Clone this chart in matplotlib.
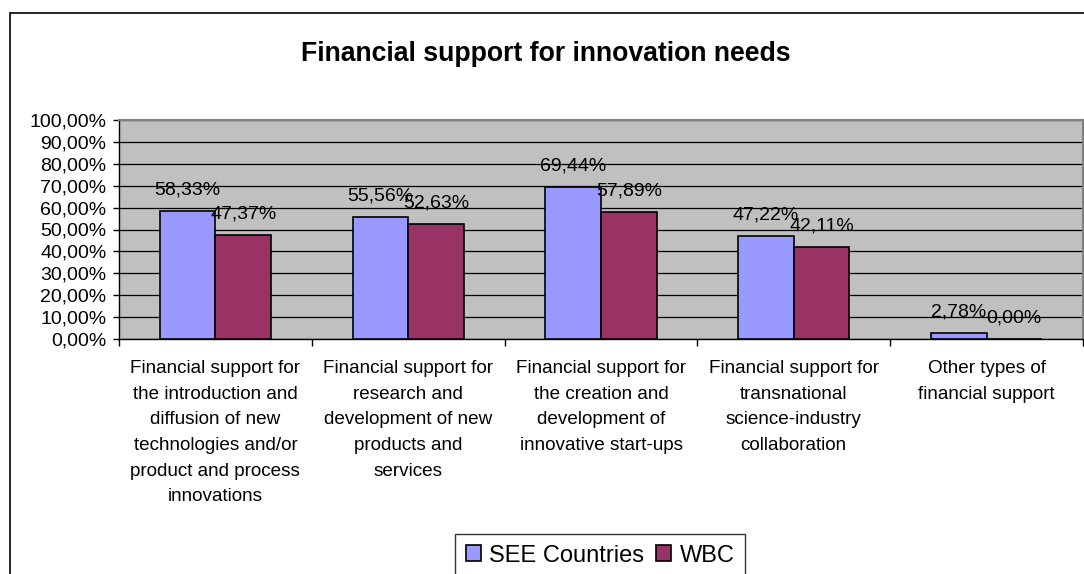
import numpy as np
import matplotlib
matplotlib.use('Agg')
import matplotlib.pyplot as plt
from matplotlib.patches import Rectangle

plt.rcParams['font.family'] = ['Liberation Sans', 'DejaVu Sans']

# Survey results: share of respondents per type of financial support
categories = [
    'Financial support for\nthe introduction and\ndiffusion of new\ntechnologies and/or\nproduct and process\ninnovations',
    'Financial support for\nresearch and\ndevelopment of new\nproducts and\nservices',
    'Financial support for\nthe creation and\ndevelopment of\ninnovative start-ups',
    'Financial support for\ntransnational\nscience-industry\ncollaboration',
    'Other types of\nfinancial support',
]
see_countries = [58.33, 55.56, 69.44, 47.22, 2.78]
wbc = [47.37, 52.63, 57.89, 42.11, 0.00]
yticks = np.arange(0, 101, 10)

W, H = 1084, 574
fig = plt.figure(figsize=(W / 100, H / 100), dpi=100)
ax = fig.add_axes([119 / W, 1 - 339 / H, (1083 - 119) / W, (339 - 120) / H])

# outer chart frame (runs off the right and bottom edges)
fig.patches.append(Rectangle((10 / W, -0.2), 1.2, 1.2 - 13 / H, transform=fig.transFigure,
                             fill=False, edgecolor='black', linewidth=1.2))

ax.set_facecolor('#C0C0C0')
x = np.arange(len(categories))
bw = 0.288
b1 = ax.bar(x - bw / 2, see_countries, bw, color='#9999FF', edgecolor='black', linewidth=1.2,
            label='SEE Countries', zorder=3)
b2 = ax.bar(x + bw / 2, wbc, bw, color='#993366', edgecolor='black', linewidth=1.2,
            label='WBC', zorder=3)

def pct(v):
    return f'{v:.2f}%'.replace('.', ',')

for bars, vals in ((b1, see_countries), (b2, wbc)):
    for rect, v in zip(bars, vals):
        ax.annotate(pct(v), (rect.get_x() + rect.get_width() / 2, v),
                    xytext=(0, 9), textcoords='offset points',
                    ha='center', va='bottom', fontsize=14, zorder=4)

ax.set_xlim(-0.5, len(categories) - 0.5)
ax.set_ylim(0, 100)
ax.set_yticks(yticks)
ax.set_yticklabels([pct(v) for v in yticks], fontsize=14)
ax.yaxis.grid(True, color='black', linewidth=0.9, zorder=1)
ax.tick_params(axis='y', length=4, width=1, pad=5)

ax.set_xticks(x)
ax.set_xticklabels(categories, fontsize=13.6, linespacing=1.67, va='top')
ax.set_xticks(np.arange(-0.5, len(categories)), minor=True)
ax.tick_params(axis='x', which='major', length=0, pad=15)
ax.tick_params(axis='x', which='minor', length=5, width=1)

for side in ('top', 'right'):
    ax.spines[side].set_color('#808080')
    ax.spines[side].set_linewidth(1.5)
for side in ('left', 'bottom'):
    ax.spines[side].set_color('black')
    ax.spines[side].set_linewidth(1)

fig.text(546 / W, 1 - 54 / H, 'Financial support for innovation needs',
         ha='center', va='center', fontsize=19.2, fontweight='bold')

leg = fig.legend(handles=[b1, b2], loc='upper center', bbox_to_anchor=(600 / W, 1 - 534 / H),
                 ncol=2, fontsize=17, frameon=True, fancybox=False, edgecolor='black',
                 handlelength=0.65, handleheight=0.65, handletextpad=0.35, columnspacing=0.5,
                 borderpad=0.45, borderaxespad=0)
leg.get_frame().set_linewidth(1)

fig.savefig('out.png', dpi=100)
